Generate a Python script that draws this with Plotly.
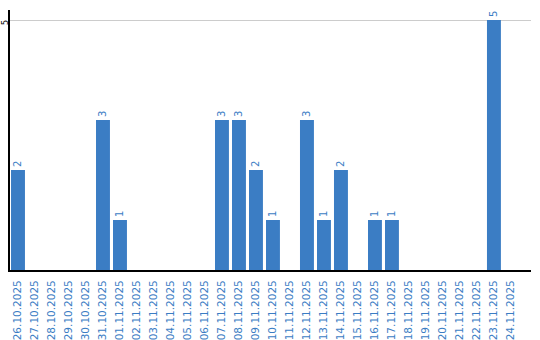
import plotly.graph_objects as go

dates = ["26.10.2025","27.10.2025","28.10.2025","29.10.2025","30.10.2025","31.10.2025",
         "01.11.2025","02.11.2025","03.11.2025","04.11.2025","05.11.2025","06.11.2025",
         "07.11.2025","08.11.2025","09.11.2025","10.11.2025","11.11.2025","12.11.2025",
         "13.11.2025","14.11.2025","15.11.2025","16.11.2025","17.11.2025","18.11.2025",
         "19.11.2025","20.11.2025","21.11.2025","22.11.2025","23.11.2025","24.11.2025"]
counts = [2,0,0,0,0,3, 1,0,0,0,0,0, 3,3,2,1,0,3, 1,2,0,1,1,0, 0,0,0,0,5,0]
labels = [str(v) if v > 0 else "" for v in counts]
y_ticks = [5]

blue = "#3b7dc4"
fig = go.Figure(go.Bar(
    x=dates, y=counts, text=labels, textposition="outside", textangle=-90,
    textfont=dict(family="DejaVu Sans", size=10, color=blue),
    marker=dict(color=blue, line=dict(width=0)), cliponaxis=False,
))
for t in y_ticks:
    fig.add_annotation(xref="paper", yref="y", x=0, y=t, text=str(t), showarrow=False,
                       textangle=-90, xanchor="center", yanchor="middle", xshift=-5, yshift=-3,
                       font=dict(family="DejaVu Sans", size=8, color="black"))
fig.update_layout(
    width=540, height=340, margin=dict(l=10, r=9, t=10, b=70),
    paper_bgcolor="white", plot_bgcolor="white", bargap=0.18, showlegend=False,
    xaxis=dict(type="category", range=[-0.47, 30.18], tickangle=-90, automargin=False,
               tickfont=dict(family="DejaVu Sans", size=10.5, color=blue),
               showline=True, linecolor="black", linewidth=2, showgrid=False,
               ticks="", ticklabelstandoff=4),
    yaxis=dict(range=[0, 5.2], tickvals=y_ticks, showticklabels=False, automargin=False,
               showline=True, linecolor="black", linewidth=2,
               showgrid=True, gridcolor="#cccccc", gridwidth=1, zeroline=False, ticks=""),
)
fig.write_html("out.html")
